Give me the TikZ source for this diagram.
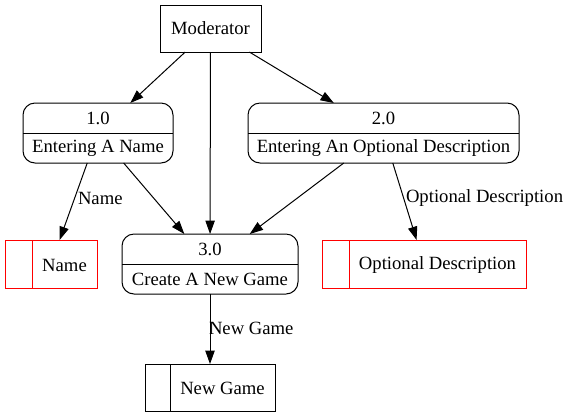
\documentclass[tikz,border=0pt]{standalone}
\usepackage{fontspec}
\setmainfont{Liberation Serif}
\usetikzlibrary{arrows.meta,calc}
\begin{document}
\begin{tikzpicture}[x=0.75pt,y=-0.75pt,
  font=\fontsize{14}{16}\selectfont,
  every node/.style={inner sep=0pt,outer sep=0pt},
  ent/.style={draw,line width=0.75pt,minimum width=75.75pt,minimum height=35.25pt},
  proc/.style={draw,line width=0.75pt,rounded corners=9pt,minimum height=45pt},
  store/.style={draw,line width=0.75pt,minimum height=36pt},
  redstore/.style={store,draw=red},
  flow/.style={line width=0.75pt,-{Triangle[length=10pt,width=7pt]}},
  lbl/.style={font=\fontsize{14}{16}\selectfont}]
\useasboundingbox (0,0) rectangle (567,419);

% external entity
\node[ent] (mod) at (210.5,28.5) {Moderator};

% processes
\node[proc,minimum width=112.5pt] (p1) at (98,133) {};
\draw[line width=0.75pt] (p1.west) -- (p1.east);
\node (p1n) at (98,118) {1.0};
\node (p1t) at (98,148) {Entering A Name};

\node[proc,minimum width=203.25pt] (p2) at (383.5,133) {};
\draw[line width=0.75pt] (p2.west) -- (p2.east);
\node (p2n) at (383.5,118) {2.0};
\node (p2t) at (383.5,148) {Entering An Optional Description};

\node[proc,minimum width=132pt] (p3) at (210,264) {};
\draw[line width=0.75pt] (p3.west) -- (p3.east);
\node (p3n) at (210,249) {3.0};
\node (p3t) at (210,279) {Create A New Game};

% data stores
\node[redstore,minimum width=69pt] (s1) at (51,264) {};
\draw[red,line width=0.75pt] ($(s1.north west)+(27,0)$) -- ($(s1.south west)+(27,0)$);
\node (s1t) at (64.5,265) {Name};

\node[redstore,minimum width=153pt] (s2) at (424,264) {};
\draw[red,line width=0.75pt] ($(s2.north west)+(27,0)$) -- ($(s2.south west)+(27,0)$);
\node (s2t) at (437.5,265) {Optional Description};

\node[store,minimum width=97.5pt,minimum height=35.25pt] (s3) at (210,387.5) {};
\draw[line width=0.75pt] ($(s3.north west)+(25,0)$) -- ($(s3.south west)+(25,0)$);
\node (s3t) at (222.5,388) {New Game};

% flows
\draw[flow] (mod) -- (p1);
\draw[flow] (mod) -- (p3);
\draw[flow] (mod) -- (p2);
\draw[flow] (p1) -- (s1);
\draw[flow] (p1) -- (p3);
\draw[flow] (p2) -- (p3);
\draw[flow] (p2) -- (s2);
\draw[flow] (p3) -- (s3);

% flow labels
\node[lbl,anchor=west] (l1) at (78,198) {Name};
\node[lbl,anchor=west] (l2) at (406,198) {Optional Description};
\node[lbl,anchor=west] (l3) at (209,328) {New Game};
\end{tikzpicture}
\end{document}
